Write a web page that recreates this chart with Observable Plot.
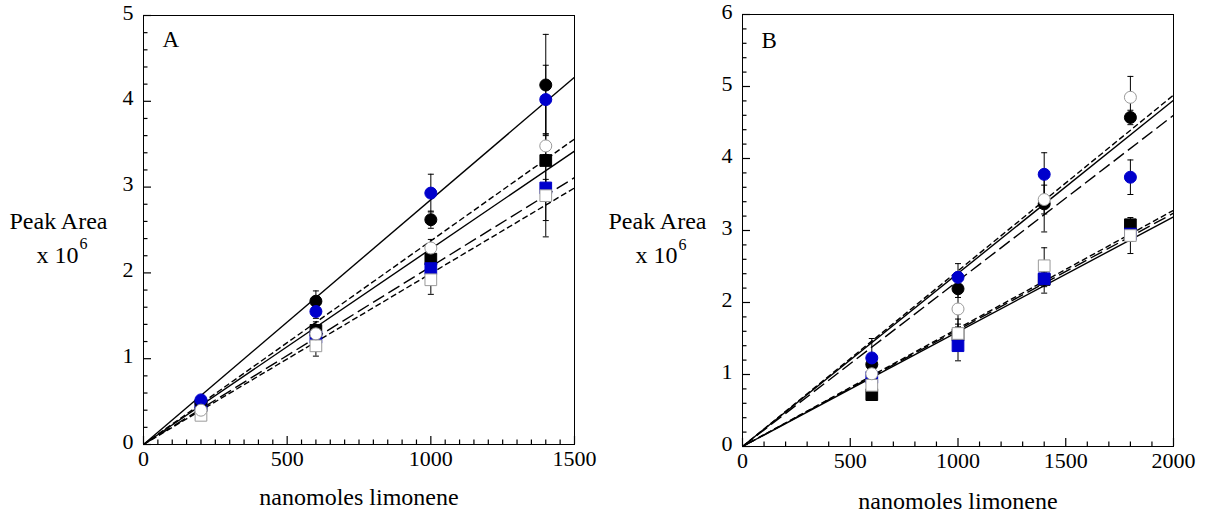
<!DOCTYPE html>
<html><head><meta charset="utf-8">
<script src="https://cdn.jsdelivr.net/npm/d3@7"></script>
<script src="https://cdn.jsdelivr.net/npm/@observablehq/plot@0.6"></script>
<style>
body{margin:0;background:#fff;}
#root{display:block;}
</style></head><body>
<script>
// ---------- Panel A data ----------
const doseA = [200, 600, 1000, 1400];
const blackSquareA = [0.45, 1.33, 2.16, 3.31];
const blackSquareErrA = [0.04, 0.10, 0.12, 0.70];
const blueSquareA = [0.46, 1.25, 2.05, 2.99];
const blueSquareErrA = [0.04, 0.08, 0.10, 0.10];
const openSquareA = [0.34, 1.15, 1.92, 2.90];
const openSquareErrA = [0.04, 0.12, 0.17, 0.48];
const blackCircleA = [0.49, 1.67, 2.62, 4.19];
const blackCircleErrA = [0.04, 0.12, 0.10, 0.59];
const blueCircleA = [0.52, 1.55, 2.93, 4.02];
const blueCircleErrA = [0.04, 0.08, 0.22, 0.40];
const openCircleA = [0.40, 1.29, 2.29, 3.48];
const openCircleErrA = [0.04, 0.08, 0.10, 0.14];
// fitted lines through origin: value at the x-axis end (1500)
const fitEndA = [4.28, 3.56, 3.42, 3.11, 2.99];
const fitStyleA = ["solid", "short", "solid", "long", "short"];

// ---------- Panel B data ----------
const doseB = [600, 1000, 1400, 1800];
const blackSquareB = [0.72, 1.55, 2.32, 3.08];
const blackSquareErrB = [0.08, 0.15, 0.10, 0.06];
const blueSquareB = [0.96, 1.40, 2.33, 2.95];
const blueSquareErrB = [0.08, 0.21, 0.20, 0.10];
const openSquareB = [0.85, 1.57, 2.51, 2.93];
const openSquareErrB = [0.10, 0.20, 0.25, 0.25];
const blackCircleB = [1.14, 2.19, 3.37, 4.57];
const blackCircleErrB = [0.08, 0.12, 0.39, 0.10];
const blueCircleB = [1.23, 2.35, 3.78, 3.74];
const blueCircleErrB = [0.27, 0.19, 0.30, 0.24];
const openCircleB = [1.01, 1.91, 3.43, 4.85];
const openCircleErrB = [0.05, 0.25, 0.20, 0.29];
// fitted lines through origin: value at the x-axis end (2000)
const fitEndB = [4.88, 4.81, 4.60, 3.28, 3.24, 3.19];
const fitStyleB = ["short", "solid", "long", "short", "long", "solid"];

// ---------- tick labels ----------
const xTicksA = [0, 500, 1000, 1500];
const xTicksB = [0, 500, 1000, 1500, 2000];
const yTicksA = [0, 1, 2, 3, 4, 5];
const yTicksB = [0, 1, 2, 3, 4, 5, 6];

// ---------- axis titles ----------
const yTitle = "Peak Area";
const yUnitBase = "x 10";
const yUnitExp = "6";
const xTitle = "nanomoles limonene";

const BLUE = "#0000cc";
const OPEN = "#9a9a9a";
const FONT = "Liberation Serif";
const dashes = {solid: null, short: "6,3", long: "13,5"};

const seriesStyle = [
  {key: "blackSquare", symbol: "square", fill: "black", stroke: "black"},
  {key: "blueSquare", symbol: "square", fill: BLUE, stroke: BLUE},
  {key: "openSquare", symbol: "square", fill: "white", stroke: OPEN},
  {key: "blackCircle", symbol: "circle", fill: "black", stroke: "black"},
  {key: "blueCircle", symbol: "circle", fill: BLUE, stroke: BLUE},
  {key: "openCircle", symbol: "circle", fill: "white", stroke: OPEN}
];

function rows(dose, vals, errs) {
  return dose.map((x, i) => ({x, y: vals[i], lo: vals[i] - errs[i], hi: vals[i] + errs[i]}));
}

function panel({letter, letterDy, series, fitEnd, fitStyle, xMax, yMax, xTicks, yTicks, xMinorStep, width, marginLeft, marginRight, marginTop, marginBottom}) {
  const height = 526;
  const fw = width - marginLeft - marginRight;
  const fh = height - marginTop - marginBottom;
  const capHalf = 3 * xMax / fw; // 3px half-width of the error-bar caps, in data units
  const minorX = d3.range(0, xMax + 1e-9, xMinorStep).filter(v => !xTicks.includes(v));
  const minorY = d3.range(0, yMax + 1e-9, 0.2).map(v => Math.round(v * 10) / 10).filter(v => !yTicks.includes(v));
  const marks = [];
  fitEnd.forEach((v, i) => {
    const o = {x1: "x1", y1: "y1", x2: "x2", y2: "y2", stroke: "black", strokeWidth: 1.4};
    if (dashes[fitStyle[i]]) o.strokeDasharray = dashes[fitStyle[i]];
    marks.push(Plot.link([{x1: 0, y1: 0, x2: xMax, y2: v}], o));
  });
  series.forEach(s => {
    marks.push(Plot.ruleX(s.data, {x: "x", y1: "lo", y2: "hi", stroke: "black", strokeWidth: 1}));
    marks.push(Plot.link(s.data, {x1: d => d.x - capHalf, x2: d => d.x + capHalf, y1: "lo", y2: "lo", stroke: "black", strokeWidth: 1}));
    marks.push(Plot.link(s.data, {x1: d => d.x - capHalf, x2: d => d.x + capHalf, y1: "hi", y2: "hi", stroke: "black", strokeWidth: 1}));
  });
  series.forEach(s => {
    marks.push(Plot.dot(s.data, {x: "x", y: "y", symbol: s.symbol, r: s.symbol === "square" ? 6.6 : 6, fill: s.fill, stroke: s.stroke, strokeWidth: 1}));
  });
  // inward ticks
  marks.push(Plot.ruleY(yTicks, {y: d => d, insetRight: fw - 8, stroke: "black", strokeWidth: 1.2}));
  marks.push(Plot.ruleY(minorY, {y: d => d, insetRight: fw - 4.5, stroke: "black", strokeWidth: 1.2}));
  marks.push(Plot.ruleX(xTicks, {x: d => d, insetTop: fh - 8, stroke: "black", strokeWidth: 1.2}));
  marks.push(Plot.ruleX(minorX, {x: d => d, insetTop: fh - 4.5, stroke: "black", strokeWidth: 1.2}));
  marks.push(Plot.frame({stroke: "black"}));
  marks.push(Plot.axisY(yTicks, {anchor: "left", tickSize: 0, tickPadding: 10, dy: -3, fontSize: 22, fontFamily: FONT, label: null, tickFormat: d => String(d)}));
  marks.push(Plot.axisX(xTicks, {anchor: "bottom", tickSize: 0, tickPadding: 6, fontSize: 22, fontFamily: FONT, label: null, tickFormat: d => String(d)}));
  marks.push(Plot.text([letter], {frameAnchor: "top-left", dx: 19, dy: letterDy, textAnchor: "start", lineAnchor: "top", fontSize: 23, fontFamily: FONT, text: d => d}));
  marks.push(Plot.text([yTitle], {frameAnchor: "left", dx: -85, dy: -9, textAnchor: "middle", fontSize: 24, fontFamily: FONT, text: d => d}));
  marks.push(Plot.text([yUnitBase], {frameAnchor: "left", dx: -65, dy: 25, textAnchor: "end", fontSize: 24, fontFamily: FONT, text: d => d}));
  marks.push(Plot.text([yUnitExp], {frameAnchor: "left", dx: -64, dy: 14, textAnchor: "start", fontSize: 16, fontFamily: FONT, text: d => d}));
  marks.push(Plot.text([xTitle], {frameAnchor: "bottom", dy: 60 + (82 - marginBottom), textAnchor: "middle", fontSize: 24, fontFamily: FONT, text: d => d}));

  return Plot.plot({
    width, height, marginLeft, marginRight, marginTop, marginBottom,
    style: {fontFamily: FONT, fontSize: "22px"},
    x: {domain: [0, xMax]},
    y: {domain: [0, yMax]},
    marks
  });
}

const seriesA = seriesStyle.map(s => ({...s, data: rows(doseA, {
  blackSquare: blackSquareA, blueSquare: blueSquareA, openSquare: openSquareA,
  blackCircle: blackCircleA, blueCircle: blueCircleA, openCircle: openCircleA}[s.key], {
  blackSquare: blackSquareErrA, blueSquare: blueSquareErrA, openSquare: openSquareErrA,
  blackCircle: blackCircleErrA, blueCircle: blueCircleErrA, openCircle: openCircleErrA}[s.key])}));

const seriesB = seriesStyle.map(s => ({...s, data: rows(doseB, {
  blackSquare: blackSquareB, blueSquare: blueSquareB, openSquare: openSquareB,
  blackCircle: blackCircleB, blueCircle: blueCircleB, openCircle: openCircleB}[s.key], {
  blackSquare: blackSquareErrB, blueSquare: blueSquareErrB, openSquare: openSquareErrB,
  blackCircle: blackCircleErrB, blueCircle: blueCircleErrB, openCircle: openCircleErrB}[s.key])}));

const pA = panel({letter: "A", letterDy: 15, series: seriesA, fitEnd: fitEndA, fitStyle: fitStyleA,
  xMax: 1500, yMax: 5, xTicks: xTicksA, yTicks: yTicksA, xMinorStep: 50,
  width: 600, marginLeft: 143, marginRight: 26, marginTop: 15, marginBottom: 82});
const pB = panel({letter: "B", letterDy: 17, series: seriesB, fitEnd: fitEndB, fitStyle: fitStyleB,
  xMax: 2000, yMax: 6, xTicks: xTicksB, yTicks: yTicksB, xMinorStep: 100,
  width: 607, marginLeft: 142, marginRight: 34, marginTop: 14, marginBottom: 80});

// one outer SVG holding both Plot panels side by side
const NS = "http://www.w3.org/2000/svg";
const root = document.createElementNS(NS, "svg");
root.setAttribute("id", "root");
root.setAttribute("width", 1207);
root.setAttribute("height", 526);
root.setAttribute("viewBox", "0 0 1207 526");
root.setAttribute("font-family", FONT);
const bg = document.createElementNS(NS, "rect");
bg.setAttribute("width", 1207); bg.setAttribute("height", 526); bg.setAttribute("fill", "white");
root.appendChild(bg);
pA.setAttribute("x", 0); pA.setAttribute("y", 0);
pB.setAttribute("x", 600); pB.setAttribute("y", 0);
root.appendChild(pA);
root.appendChild(pB);
document.body.appendChild(root);
</script></body></html>
